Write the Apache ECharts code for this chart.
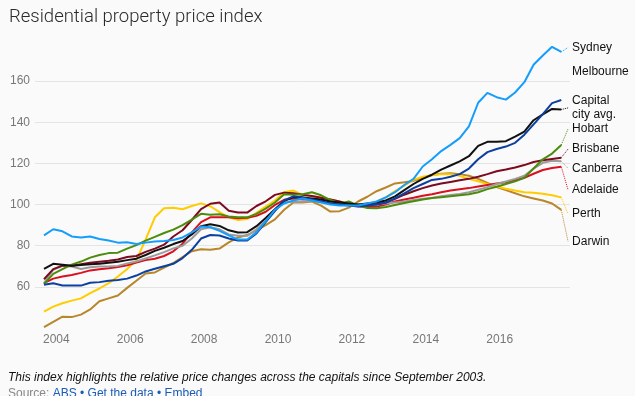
<!DOCTYPE html>
<html>
<head>
<meta charset="utf-8">
<title>Residential property price index</title>
<script src="https://cdn.jsdelivr.net/npm/echarts@6/dist/echarts.min.js"></script>
<style>
  html, body { margin: 0; padding: 0; background: #fafafa; }
  #chartDiv { width: 635px; height: 396px; }
</style>
</head>
<body>
<div id="chartDiv"></div>
<script>
// quarterly index, Sep 2003 .. Sep 2017
var quarters = [];
for (var y = 2003; y <= 2017; y++) {
    [3, 6, 9, 12].forEach(function (m) {
        if ((y > 2003 || m >= 9) && (y < 2017 || m <= 9)) quarters.push(y + (m - 1) / 12);
    });
}
var yearTicks = [2004, 2006, 2008, 2010, 2012, 2014, 2016];
var indexTicks = [60, 80, 100, 120, 140, 160];

var sydney = [85, 88, 87, 84.5, 84, 84.5, 83.3, 82.5, 81.5, 81.7, 80.8, 81.5, 82, 82.3, 82.8,
    84, 86.5, 89.3, 89, 87.2, 85, 83, 83, 86.5, 92, 97.5, 100.5, 102, 103,
    102, 101, 100, 99.5, 99.5, 99.5, 100.5, 101.5, 103.5, 106, 109.5, 112.5, 118.5, 122,
    126, 129, 132.3, 138, 149.5, 154.3, 152.2, 151, 154.5, 159.5, 168, 172.5, 176.7, 174.2];
var melbourne = [61, 61.8, 60.7, 60.6, 60.6, 62, 62.3, 63, 63.3, 64, 65.5, 67.5, 68.8, 70, 71.2,
    74, 78, 83.5, 85.2, 85, 83.5, 82.5, 82.5, 86, 91.5, 97, 102, 104, 103.5,
    102.5, 101.5, 100.5, 100, 99.5, 99, 99.5, 100, 101, 103, 105.5, 108, 110, 112,
    112.5, 113.5, 114.8, 117.5, 122, 125.5, 127, 128.2, 130, 134, 139, 144, 149.3, 150.8];
var capitalAvg = [68.7, 71.2, 70.8, 70.3, 70.6, 71, 71.2, 71.7, 72.2, 73, 73.7, 75.5, 77.5, 79, 80.8,
    82.3, 85.5, 89.5, 90.4, 89.6, 87.5, 86.4, 86.6, 89.5, 93.5, 97.7, 101.8, 103.7, 103.5,
    103, 102.5, 101.5, 101, 100.5, 100, 100.5, 101, 102, 104, 107, 110, 112.5, 114.5,
    117, 119, 121, 123.5, 128.5, 130.5, 130.5, 130.8, 133, 135.5, 141, 143.8, 146.5, 146.2];
var hobart = [61.3, 66.3, 68.6, 70.8, 72.3, 74.2, 75.5, 76.4, 76.6, 78.6, 80.3, 82.5, 84.3, 86.2, 87.8,
    90, 92.7, 95.5, 95, 95.3, 94.2, 93.8, 93.8, 95.5, 98, 101, 105, 104.8, 105,
    106, 104.5, 102.2, 100.5, 101.5, 99.5, 98.3, 98.2, 98.8, 99.8, 100.8, 101.6, 102.5, 103.2,
    103.6, 104, 104.5, 105, 106, 107.5, 108.7, 110, 111.3, 113, 117.5, 122, 124.8, 129];
var brisbane = [63.7, 68.6, 70.3, 70.3, 71, 71.7, 72.2, 72.7, 73.3, 74.5, 75, 77, 78.6, 80.5, 84.5,
    87.5, 92.5, 97.8, 100.4, 101, 97, 96.1, 96.1, 99.3, 101.6, 104.7, 105.8, 105.5, 104.8,
    104.2, 103.3, 102.5, 101.5, 100.2, 99.8, 99.8, 100.2, 101, 102.8, 104.8, 106.5, 108, 109.3,
    110.2, 111, 111.8, 112.5, 113.5, 114.8, 116.2, 117, 118, 119.2, 120.7, 121.5, 122.2, 122.8];
var canberra = [61.8, 68.3, 70.2, 69.9, 68.7, 69.5, 69.9, 69.9, 70.2, 71.4, 72.3, 73.8, 75.3, 76.9, 78.7,
    80, 83.5, 88, 89, 88, 85.5, 84.8, 84.8, 88, 92, 97, 101.2, 101.4, 101.4,
    102, 101.5, 101, 100.5, 100.2, 100, 99.8, 100, 100.5, 101, 101.5, 102.2, 102.8, 103.2,
    104, 104.6, 105.2, 106, 107.2, 108.5, 110, 111.2, 112.5, 114, 117.5, 120.3, 121.3, 121];
var adelaide = [61.8, 64, 65, 65.8, 66.8, 68, 68.6, 69, 69.7, 70.5, 71.8, 73, 73.7, 75, 77.3,
    81, 86.5, 91.5, 93.8, 93.8, 93.8, 93.4, 93.6, 94.5, 96.5, 99.8, 102.3, 103, 102.5,
    102.5, 101.8, 101, 100.5, 99.8, 99.2, 98.8, 99, 100, 101.5, 102.5, 103.3, 104.3, 105,
    106, 106.8, 107.4, 108, 108.8, 109.5, 110.2, 110.8, 111.8, 113, 115, 116.8, 117.8, 118.4];
var perth = [48, 50.4, 52, 53.3, 54.4, 56.9, 59.2, 61.8, 65, 68.7, 73, 83, 93.8, 98.2, 98.5,
    97.7, 99.3, 100.6, 99.2, 96.3, 93.8, 92.5, 93, 96, 99, 102, 106, 106.8, 104.7,
    104, 103.5, 102.5, 101.5, 100.3, 100, 99.8, 101.4, 103.5, 106.5, 109.2, 112, 113.5, 114.2,
    114.8, 114.8, 114, 112.5, 111.3, 110, 108.8, 107.7, 106.8, 106, 105.8, 105.3, 104.5, 103.5];
var darwin = [40.4, 43, 45.5, 45.3, 46.5, 49, 53, 54.4, 55.8, 59.5, 63, 66.5, 67, 69.3, 71.6,
    74.5, 77.3, 78.3, 78, 78.6, 81.6, 84, 85.2, 87.5, 90, 92.8, 97.5, 101, 101,
    101.5, 99.5, 96.6, 96.8, 98.5, 101.5, 103.8, 106.5, 108.3, 110.3, 110.8, 111.5, 113, 114.4,
    115, 115.2, 114.8, 114, 112.5, 110.5, 108.5, 107, 105.5, 104, 103, 102, 100.5, 97.4];

// where the end labels sit (index units), x of the label column
var labelX = 2017.85;
var cities = [
    {name: 'Darwin', values: darwin, color: '#b8862b', labelY: 82},
    {name: 'Perth', values: perth, color: '#ffcc00', labelY: 95.4},
    {name: 'Adelaide', values: adelaide, color: '#d8101f', labelY: 107.1},
    {name: 'Canberra', values: canberra, color: '#9b9b9b', labelY: 117.6},
    {name: 'Brisbane', values: brisbane, color: '#7d0a1e', labelY: 127},
    {name: 'Hobart', values: hobart, color: '#4c8c0c', labelY: 136.8},
    {name: 'Capital\ncity avg.', values: capitalAvg, color: '#111111', labelY: 147},
    {name: 'Melbourne', values: melbourne, color: '#0b3fa0', labelY: 164.5, noLink: true},
    {name: 'Sydney', values: sydney, color: '#159dfc', labelY: 176.4}
];

var series = [];
cities.forEach(function (c) {
    series.push({
        type: 'line',
        name: c.name,
        data: quarters.map(function (t, i) { return [t, c.values[i]]; }),
        showSymbol: false,
        lineStyle: {width: 2, color: c.color},
        itemStyle: {color: c.color},
        emphasis: {disabled: true}
    });
    var last = c.values.length - 1;
    series.push({
        type: 'line',
        data: [[quarters[last], c.values[last]], [labelX, c.labelY]],
        showSymbol: false,
        lineStyle: {width: 1, type: 'dotted', color: c.color, opacity: c.noLink ? 0 : 1},
        emphasis: {disabled: true},
        endLabel: {
            show: true,
            formatter: c.name,
            color: '#111',
            fontSize: 12,
            lineHeight: 14,
            distance: 4,
            fontFamily: 'Liberation Sans, Arial, sans-serif'
        }
    });
});

var myChart = echarts.init(document.getElementById('chartDiv'));
var option = {
    animation: false,
    backgroundColor: '#fafafa',
    title: [{
        text: 'Residential property price index',
        left: 9, top: 8, padding: 0,
        textStyle: {fontSize: 18.5, fontWeight: 300, color: '#2a2a2a', fontFamily: 'Roboto, Liberation Sans, sans-serif'}
    }, {
        text: 'This index highlights the relative price changes across the capitals since September 2003.',
        left: 8, top: 372, padding: 0,
        textStyle: {fontSize: 12, fontWeight: 'normal', fontStyle: 'italic', color: '#111', fontFamily: 'Liberation Sans, Arial, sans-serif'}
    }, {
        text: 'Source: {a|ABS • Get the data • Embed}',
        left: 8, top: 388, padding: 0,
        textStyle: {
            fontSize: 12, fontWeight: 'normal', color: '#888', fontFamily: 'Liberation Sans, Arial, sans-serif',
            rich: {a: {fontSize: 12, color: '#1a5cb8', fontFamily: 'Liberation Sans, Arial, sans-serif'}}
        }
    }],
    grid: {left: 35, right: 65, top: 40, height: 288, containLabel: false},
    xAxis: {
        type: 'value',
        min: 2003.423,
        max: 2017.902,
        axisLine: {show: false},
        axisTick: {show: false},
        splitLine: {show: false},
        axisLabel: {
            customValues: yearTicks,
            formatter: function (v) { return String(v); },
            color: '#777', fontSize: 12, margin: 6,
            fontFamily: 'Liberation Sans, Arial, sans-serif'
        }
    },
    yAxis: {
        type: 'value',
        min: 40,
        max: 180,
        axisLine: {show: false},
        axisTick: {show: false, customValues: indexTicks},
        splitLine: {show: true, lineStyle: {color: '#e4e4e4', width: 1}},
        axisLabel: {
            customValues: indexTicks,
            formatter: function (v) { return String(v); },
            color: '#777', fontSize: 12, margin: 5,
            fontFamily: 'Liberation Sans, Arial, sans-serif'
        }
    },
    series: series
};
myChart.setOption(option);
window.onresize = myChart.resize;
</script>
</body>
</html>
